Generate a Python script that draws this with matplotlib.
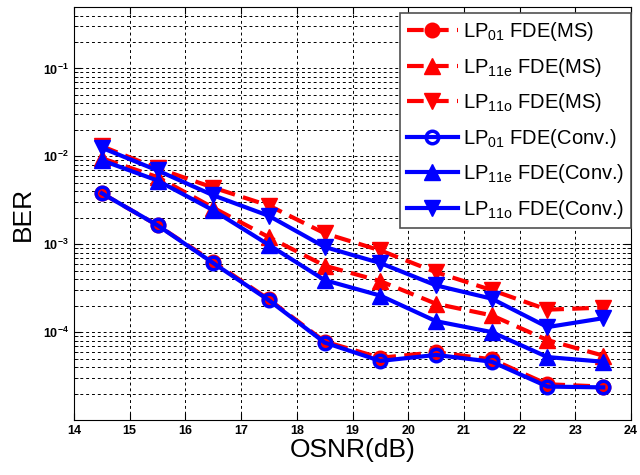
import numpy as np
import matplotlib
matplotlib.use("Agg")
import matplotlib.pyplot as plt
from matplotlib.ticker import LogLocator, FixedLocator, NullFormatter

plt.rcParams['font.family'] = ['Liberation Sans', 'DejaVu Sans']
plt.rcParams['mathtext.default'] = 'regular'

OSNR = [14.5, 15.5, 16.5, 17.5, 18.5, 19.5, 20.5, 21.5, 22.5, 23.5]

# BER values
LP01_MS = [3.8e-3, 1.64e-3, 6.3e-4, 2.35e-4, 7.8e-5, 5.1e-5, 5.9e-5, 4.9e-5, 2.55e-5, 2.4e-5]
LP11E_MS = [9.5e-3, 5.8e-3, 2.6e-3, 1.2e-3, 5.7e-4, 3.8e-4, 2.1e-4, 1.55e-4, 8.1e-5, 5.4e-5]
LP11O_MS = [1.3e-2, 7.3e-3, 4.4e-3, 2.75e-3, 1.33e-3, 8.5e-4, 4.8e-4, 3.0e-4, 1.8e-4, 1.9e-4]
LP01_CONV = [3.8e-3, 1.64e-3, 6.1e-4, 2.3e-4, 7.6e-5, 4.7e-5, 5.5e-5, 4.6e-5, 2.4e-5, 2.35e-5]
LP11E_CONV = [9.0e-3, 5.3e-3, 2.43e-3, 9.8e-4, 3.9e-4, 2.6e-4, 1.33e-4, 1.0e-4, 5.2e-5, 4.6e-5]
LP11O_CONV = [1.25e-2, 6.9e-3, 3.6e-3, 2.1e-3, 9.3e-4, 6.1e-4, 3.4e-4, 2.4e-4, 1.14e-4, 1.44e-4]

LABELS = [r'LP$_{01}$ FDE(MS)', r'LP$_{11e}$ FDE(MS)', r'LP$_{11o}$ FDE(MS)',
          r'LP$_{01}$ FDE(Conv.)', r'LP$_{11e}$ FDE(Conv.)', r'LP$_{11o}$ FDE(Conv.)']

fig = plt.figure(figsize=(6.4, 4.75), dpi=100)
ax = fig.add_axes([0.1156, 0.1158, 0.8704, 0.8695])

red = '#ff0000'
blue = '#0000ff'
series = [
    (LP01_MS, 'o', red, '--', True),
    (LP11E_MS, '^', red, '--', True),
    (LP11O_MS, 'v', red, '--', True),
    (LP01_CONV, 'o', blue, '-', False),
    (LP11E_CONV, '^', blue, '-', True),
    (LP11O_CONV, 'v', blue, '-', True),
]
for (vals, mk, col, ls, filled), lab in zip(series, LABELS):
    ax.plot(OSNR, vals, linestyle=ls, color=col, lw=3, marker=mk,
            ms=11 if mk != 'o' else 9, mew=2.5 if mk == 'o' else 1,
            mfc=col if filled else 'none', mec=col, label=lab,
            dashes=(4, 2) if ls == '--' else (None, None))

ax.set_yscale('log')
ax.set_xlim(14, 24)
ax.set_ylim(1e-5, 0.5)
ax.xaxis.set_major_locator(FixedLocator(np.arange(14, 25, 1)))
ax.yaxis.set_major_locator(FixedLocator([1e-4, 1e-3, 1e-2, 1e-1]))
ax.yaxis.set_minor_locator(LogLocator(base=10, subs=np.arange(2, 10), numticks=20))
ax.yaxis.set_minor_formatter(NullFormatter())
ax.set_yticklabels([r'$10^{-4}$', r'$10^{-3}$', r'$10^{-2}$', r'$10^{-1}$'])

ax.grid(True, which='major', axis='both', color='black', linestyle=(0, (3, 3)), lw=0.7)
ax.grid(True, which='minor', axis='y', color='black', linestyle=(0, (3, 3)), lw=0.7)
ax.set_axisbelow(True)

ax.tick_params(which='both', direction='in', top=True, right=True)
ax.tick_params(which='major', length=5, labelsize=9)
ax.tick_params(which='minor', length=3)
for t in ax.get_xticklabels() + ax.get_yticklabels():
    t.set_fontweight('bold')

ax.set_xlabel('OSNR(dB)', fontsize=19, labelpad=1)
ax.set_ylabel('BER', fontsize=19, labelpad=6)

leg = ax.legend(loc='upper right', fontsize=14.5, handlelength=2.5, handletextpad=0.25,
                labelspacing=0.62, borderpad=0.35, borderaxespad=0.0, fancybox=False,
                framealpha=1, edgecolor='#505050', bbox_to_anchor=(1.0, 0.985))
leg.get_frame().set_linewidth(1.2)

fig.savefig('out.png', dpi=100)
